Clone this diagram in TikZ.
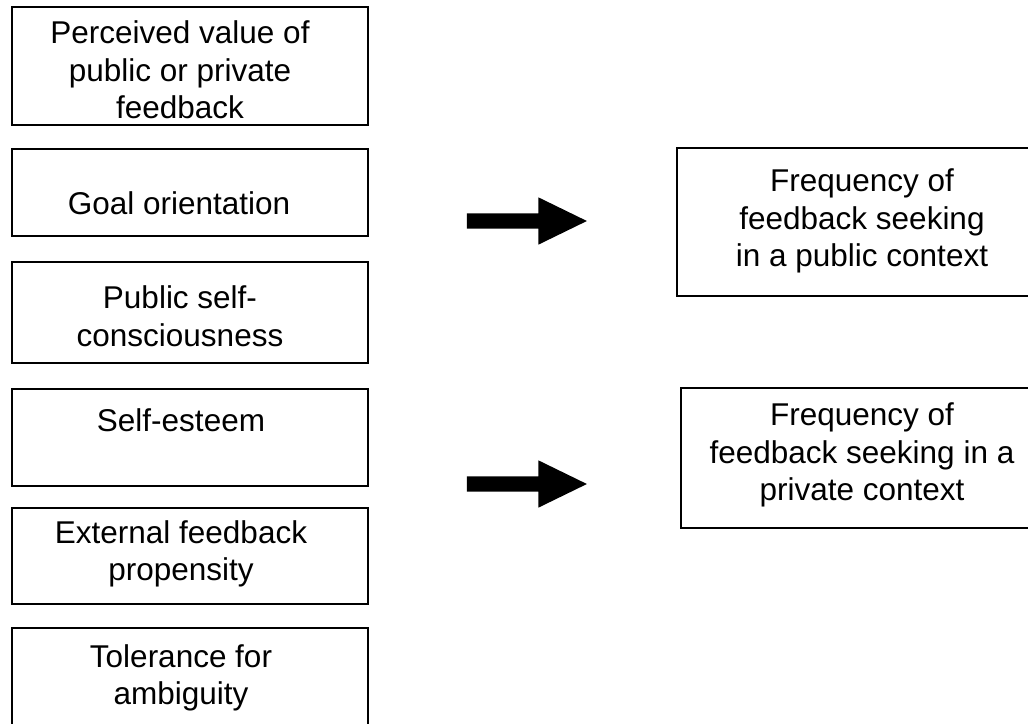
\documentclass[tikz,border=0pt]{standalone}
\usepackage{fontspec}
\setmainfont{Liberation Sans}
\usepackage{tikz}
\usetikzlibrary{shapes.arrows}

\begin{document}
\begin{tikzpicture}[x=1pt,y=-1pt,
    factor/.style={draw,line width=1.3pt,minimum width=356pt,inner sep=0pt},
    outcome/.style={draw,line width=1.3pt,minimum width=370pt,inner sep=0pt},
    txt/.style={align=center,font=\fontsize{31.5}{37.5}\selectfont},
    bigarrow/.style={single arrow,fill=black,inner xsep=0pt,inner ysep=7.5pt,
        single arrow head extend=16pt,single arrow tip angle=52,minimum height=120pt}]
   \clip (0,0) rectangle (1028,723);

   \draw (190,66) node[factor,minimum height=118pt] (perceived) {};
   \draw (190,192.5) node[factor,minimum height=87pt] (goal) {};
   \draw (190,312.5) node[factor,minimum height=101pt] (selfcon) {};
   \draw (190,437.5) node[factor,minimum height=97pt] (esteem) {};
   \draw (190,556) node[factor,minimum height=96pt] (external) {};
   \draw (190,679) node[factor,minimum height=102pt] (tolerance) {};

   \draw (180,70) node[txt] (perceivedtxt) {Perceived value of\\public or private\\feedback};
   \draw (179,203) node[txt] (goaltxt) {Goal orientation};
   \draw (180,316) node[txt] (selfcontxt) {Public self-\\consciousness};
   \draw (181,420) node[txt] (esteemtxt) {Self-esteem};
   \draw (181,554) node[txt] (externaltxt) {External feedback\\propensity};
   \draw (181,678) node[txt] (tolerancetxt) {Tolerance for\\ambiguity};

   \draw (862,222) node[outcome,minimum height=148pt] (public) {};
   \draw (866,458) node[outcome,minimum height=140pt] (private) {};
   \draw (862,221) node[txt] (publictxt) {Frequency of\\feedback seeking\\in a public context};
   \draw (862,455) node[txt] (privatetxt) {Frequency of\\feedback seeking in a\\private context};

   \draw (519,221) node[bigarrow] (arrowpublic) {};
   \draw (519,484) node[bigarrow] (arrowprivate) {};
\end{tikzpicture}
\end{document}
